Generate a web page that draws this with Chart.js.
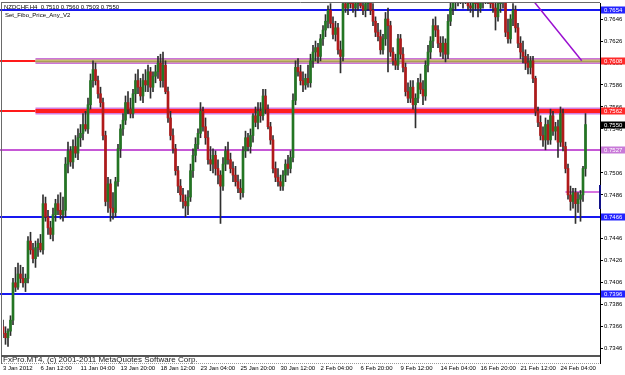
<!DOCTYPE html>
<html><head><meta charset="utf-8">
<script src="https://cdn.jsdelivr.net/npm/chart.js@4.4.1/dist/chart.umd.min.js"></script>
<style>html,body{margin:0;padding:0;background:#fff}#wrap{width:625px;height:375px}</style>
</head><body><div id="wrap"><canvas id="c" width="625" height="375"></canvas></div>
<script>
// ---- DATA (prices in pips, 1 pip = 0.0001) ----
const openPips = [7366,7360,7356,7362,7372,7406,7402,7414,7410,7406,7410,7444,7436,7428,7438,7442,7436,7478,7466,7456,
7450,7468,7478,7472,7468,7472,7514,7526,7516,7530,7524,7538,7542,7550,7546,7568,7590,7600,7590,7578,
7570,7540,7480,7496,7474,7470,7498,7528,7546,7554,7570,7564,7560,7578,7590,7584,7576,7590,7586,7598,
7584,7594,7598,7606,7590,7604,7580,7556,7540,7528,7508,7494,7486,7480,7476,7484,7508,7522,7532,7542,
7562,7548,7538,7518,7514,7522,7510,7504,7494,7514,7526,7518,7510,7504,7498,7492,7488,7526,7538,7530,
7540,7558,7552,7562,7558,7576,7564,7548,7536,7510,7502,7498,7494,7504,7514,7510,7520,7572,7602,7598,
7590,7586,7592,7588,7608,7616,7620,7612,7628,7636,7644,7654,7642,7632,7638,7618,7612,7660,7656,7664,
7660,7656,7660,7666,7658,7654,7660,7664,7654,7644,7634,7630,7618,7628,7646,7640,7616,7608,7604,7628,
7614,7602,7580,7574,7584,7568,7574,7588,7582,7576,7604,7616,7626,7640,7636,7624,7616,7624,7614,7644,
7656,7662,7666,7670,7664,7670,7666,7658,7656,7662,7660,7656,7664,7668,7672,7664,7660,7656,7648,7660,
7664,7662,7634,7628,7646,7654,7638,7624,7616,7612,7606,7602,7608,7592,7562,7552,7540,7536,7550,7536,
7558,7544,7548,7534,7560,7530,7510,7486,7480,7488,7478,7482,7486,7510];
const highPips = [7372,7366,7364,7376,7410,7420,7424,7422,7420,7414,7448,7452,7442,7444,7446,7450,7486,7484,7472,7462,
7474,7482,7486,7488,7484,7520,7534,7530,7536,7540,7546,7550,7560,7562,7574,7596,7608,7606,7594,7584,
7574,7544,7502,7500,7488,7502,7532,7550,7560,7576,7580,7574,7582,7596,7600,7592,7596,7600,7604,7602,
7598,7604,7612,7614,7616,7608,7584,7562,7546,7532,7512,7500,7492,7486,7490,7514,7528,7538,7546,7570,
7566,7556,7544,7530,7528,7526,7518,7508,7520,7530,7534,7524,7516,7512,7504,7500,7530,7544,7542,7546,
7560,7566,7570,7570,7582,7582,7568,7552,7540,7516,7510,7504,7508,7518,7522,7526,7578,7608,7610,7604,
7598,7596,7604,7614,7622,7626,7624,7632,7640,7650,7658,7660,7648,7644,7642,7626,7668,7672,7668,7676,
7670,7664,7672,7674,7666,7664,7670,7668,7660,7648,7642,7636,7632,7652,7656,7644,7620,7614,7632,7632,
7620,7606,7588,7590,7590,7578,7592,7596,7590,7608,7622,7630,7646,7648,7640,7630,7630,7628,7650,7662,
7670,7676,7680,7682,7676,7680,7674,7668,7666,7672,7668,7670,7676,7680,7682,7674,7668,7664,7664,7670,
7672,7668,7646,7650,7660,7658,7642,7630,7626,7618,7614,7612,7612,7594,7566,7558,7548,7556,7554,7564,
7562,7552,7554,7566,7564,7534,7514,7494,7492,7492,7488,7490,7512,7560];
const lowPips = [7356,7350,7348,7358,7368,7398,7400,7406,7402,7398,7406,7432,7424,7420,7430,7434,7432,7462,7450,7446,
7444,7462,7468,7464,7462,7466,7506,7512,7510,7520,7518,7530,7536,7544,7542,7564,7584,7586,7574,7566,
7536,7476,7470,7462,7464,7466,7494,7520,7540,7550,7560,7556,7556,7570,7578,7572,7570,7580,7580,7574,
7580,7588,7592,7584,7584,7578,7552,7536,7524,7504,7488,7480,7474,7466,7468,7480,7502,7516,7528,7538,
7544,7532,7514,7508,7506,7504,7496,7460,7490,7508,7514,7506,7498,7494,7488,7482,7484,7520,7526,7524,
7534,7548,7546,7552,7554,7560,7546,7532,7506,7498,7494,7490,7490,7498,7504,7506,7516,7568,7594,7586,
7580,7582,7584,7584,7602,7608,7606,7608,7622,7630,7638,7638,7628,7626,7614,7597,7608,7652,7650,7656,
7652,7648,7654,7656,7650,7648,7654,7650,7640,7630,7626,7614,7614,7622,7598,7612,7604,7600,7600,7610,
7598,7576,7570,7570,7564,7547,7570,7578,7568,7572,7598,7610,7620,7630,7620,7612,7610,7607,7610,7640,
7650,7654,7658,7660,7656,7660,7654,7652,7648,7654,7648,7652,7656,7660,7660,7656,7652,7636,7644,7652,
7656,7630,7624,7624,7640,7634,7620,7610,7606,7600,7596,7596,7588,7558,7548,7536,7530,7527,7532,7532,
7540,7536,7520,7530,7526,7506,7482,7472,7474,7460,7470,7462,7480,7503];
const closePips = [7360,7356,7362,7372,7406,7402,7414,7410,7406,7410,7444,7436,7428,7438,7442,7436,7478,7466,7456,7450,
7468,7478,7472,7468,7472,7514,7526,7516,7530,7524,7538,7542,7550,7546,7568,7590,7600,7590,7578,7570,
7540,7480,7496,7474,7470,7498,7528,7546,7554,7570,7564,7560,7578,7590,7584,7576,7590,7586,7598,7584,
7594,7598,7606,7590,7604,7580,7556,7540,7528,7508,7494,7486,7480,7476,7484,7508,7522,7532,7542,7562,
7548,7538,7518,7514,7522,7510,7504,7494,7514,7526,7518,7510,7504,7498,7492,7488,7526,7538,7530,7540,
7558,7552,7562,7558,7576,7564,7548,7536,7510,7502,7498,7494,7504,7514,7510,7520,7572,7602,7598,7590,
7586,7592,7588,7608,7616,7620,7612,7628,7636,7644,7654,7642,7632,7638,7618,7612,7660,7656,7664,7660,
7656,7660,7666,7658,7654,7660,7664,7654,7644,7634,7630,7618,7628,7646,7640,7616,7608,7604,7628,7614,
7602,7580,7574,7584,7568,7574,7588,7582,7576,7604,7616,7626,7640,7636,7624,7616,7624,7614,7644,7656,
7662,7666,7670,7664,7670,7666,7658,7656,7662,7660,7656,7664,7668,7672,7664,7660,7656,7648,7660,7664,
7662,7634,7628,7646,7654,7638,7624,7616,7612,7606,7602,7608,7592,7562,7552,7540,7536,7550,7536,7558,
7544,7548,7534,7560,7530,7510,7486,7480,7488,7478,7482,7486,7510,7550];

// time axis: H4 bar numbers (bar 1 = 3 Jan 2012 20:00), a label every 16 bars
const tickBars = [1,16,32,48,64,80,96,112,128,144,160,176,192,208,224];
const tickLabels = ['3 Jan 2012','6 Jan 12:00','11 Jan 04:00','13 Jan 20:00','18 Jan 12:00','23 Jan 04:00','25 Jan 20:00',
  '30 Jan 12:00','2 Feb 04:00','6 Feb 20:00','9 Feb 12:00','14 Feb 04:00','16 Feb 20:00','21 Feb 12:00','24 Feb 04:00'];
const priceTicks = [0.7346,0.7366,0.7386,0.7406,0.7426,0.7446,0.7466,0.7486,0.7506,0.7526,0.7546,0.7566,0.7586,0.7606,0.7626,0.7646];

// horizontal objects
const blueLevels = [0.7654, 0.7466, 0.7396];
const fiboBandLevels = [0.7608, 0.7562];
const violetLevel = 0.7527;
const currentPrice = 0.7550;
const shortLevel = 0.7489;
const bandStartBar = 14;
const shortLineStartBar = 226;
const trendLine = [{bar: 213, price: 0.7663}, {bar: 232.5, price: 0.7608}];
const askMarker = [0.7495, 0.7473];
const titleText = 'NZDCHF,H4  0.7510 0.7560 0.7503 0.7550';
const indicatorName = 'Set_Fibo_Price_Any_V2';
const copyrightText = 'FxPro.MT4, (c) 2001-2011 MetaQuotes Software Corp.';

// ---- BUILD ----
const P = v => v / 10000;
const bars = openPips.map((_, k) => k + 1);
const wickData = bars.map((b, k) => ({x: b, y: [P(lowPips[k]), P(highPips[k])]}));
const bodyData = bars.map((b, k) => {
  let o = P(openPips[k]), c = P(closePips[k]);
  if (Math.abs(o - c) < 0.00008) c = o + (closePips[k] >= openPips[k] ? 0.00008 : -0.00008);
  return {x: b, y: [o, c]};
});
const up = bars.map((b, k) => closePips[k] >= openPips[k]);
const FONT = 'Liberation Sans, Arial, sans-serif';

const overlay = {
  id: 'overlay',
  beforeDatasetsDraw(chart) {
    const {ctx, chartArea: a, scales: {x, y}} = chart;
    ctx.save();
    ctx.beginPath(); ctx.rect(0, a.top, a.right, a.bottom - a.top); ctx.clip();
    const py = v => Math.round(y.getPixelForValue(v));
    const hl = (v, color, w, x0, x1) => {
      const yy = py(v) + (w % 2 ? 0.5 : 0);
      ctx.strokeStyle = color; ctx.lineWidth = w;
      ctx.beginPath(); ctx.moveTo(x0, yy); ctx.lineTo(x1, yy); ctx.stroke();
    };
    const bx = x.getPixelForValue(bandStartBar);
    fiboBandLevels.forEach((v, k) => {
      hl(v, '#ff1a1a', 2, 0, bx);
      const c = py(v);
      if (k === 0) {
        ctx.fillStyle = '#cc74da'; ctx.fillRect(bx, c - 3, a.right - bx, 6);
        ctx.fillStyle = '#c8bd72'; ctx.fillRect(bx, c - 1.5, a.right - bx, 3);
        ctx.strokeStyle = '#8a7f3a'; ctx.lineWidth = 1; ctx.setLineDash([1, 1]);
        ctx.beginPath(); ctx.moveTo(bx, c + 0.5); ctx.lineTo(a.right, c + 0.5); ctx.stroke();
        ctx.setLineDash([]);
      } else {
        ctx.fillStyle = '#d27de0'; ctx.fillRect(bx, c - 3.5, a.right - bx, 7);
        ctx.fillStyle = '#ff1e1e'; ctx.fillRect(bx, c - 2, a.right - bx, 4);
      }
    });
    hl(violetLevel, '#c658d6', 2, 0, a.right);
    blueLevels.forEach(v => hl(v, '#1818f0', 2, 0, a.right));
    hl(shortLevel, '#d874e0', 2, x.getPixelForValue(shortLineStartBar), a.right);
    ctx.strokeStyle = '#9a10d0'; ctx.lineWidth = 1.5;
    ctx.beginPath();
    ctx.moveTo(x.getPixelForValue(trendLine[0].bar), y.getPixelForValue(trendLine[0].price));
    ctx.lineTo(x.getPixelForValue(trendLine[1].bar), y.getPixelForValue(trendLine[1].price));
    ctx.stroke();
    ctx.restore();
  },
  afterDraw(chart) {
    const {ctx, chartArea: a, scales: {y}} = chart;
    ctx.save();
    const py = v => Math.round(y.getPixelForValue(v));
    ctx.strokeStyle = '#6a6a6a'; ctx.lineWidth = 1;
    ctx.beginPath(); ctx.moveTo(1.5, 2); ctx.lineTo(1.5, 364); ctx.stroke();
    ctx.beginPath(); ctx.moveTo(1, 2.5); ctx.lineTo(600, 2.5); ctx.stroke();
    ctx.fillStyle = '#fff'; ctx.fillRect(2, a.bottom, a.right - 2, 8);
    ctx.strokeStyle = '#555'; ctx.lineWidth = 2;
    ctx.beginPath(); ctx.moveTo(1, a.bottom + 1); ctx.lineTo(601, a.bottom + 1); ctx.stroke();
    ctx.strokeStyle = '#9a9a9a'; ctx.lineWidth = 1; ctx.setLineDash([1, 1]);
    ctx.beginPath(); ctx.moveTo(2, a.bottom + 8.5); ctx.lineTo(600, a.bottom + 8.5); ctx.stroke();
    ctx.setLineDash([]);
    ctx.strokeStyle = '#000'; ctx.beginPath(); ctx.moveTo(600.5, a.bottom); ctx.lineTo(600.5, a.bottom + 9); ctx.stroke();
    ctx.fillStyle = '#222'; ctx.font = '8px ' + FONT; ctx.textBaseline = 'middle'; ctx.textAlign = 'left';
    ctx.fillText(copyrightText, 3, a.bottom + 5);
    ctx.fillStyle = '#12128a';
    const m0 = py(askMarker[0]), m1 = py(askMarker[1]);
    ctx.fillRect(599, m0, 2, m1 - m0);
    ctx.fillStyle = '#000'; ctx.font = '6px ' + FONT; ctx.textBaseline = 'top';
    ctx.fillText(titleText, 4, 4);
    ctx.fillText(indicatorName, 5, 12);
    const box = (v, bg) => {
      const c = py(v);
      ctx.fillStyle = bg; ctx.fillRect(601, c - 3.5, 24, 7);
      ctx.fillStyle = '#fff'; ctx.font = '6px ' + FONT; ctx.textBaseline = 'middle';
      ctx.fillText(v.toFixed(4), 604, c + 0.5);
    };
    box(blueLevels[0], '#2424ff');
    fiboBandLevels.forEach(v => box(v, '#ff2a2a'));
    box(currentPrice, '#000000');
    box(violetLevel, '#c879d8');
    box(blueLevels[1], '#2424ff');
    box(blueLevels[2], '#2424ff');
    ctx.restore();
  }
};

new Chart(document.getElementById('c'), {
  type: 'bar',
  data: {
    datasets: [
      {data: wickData, backgroundColor: '#2e2e2e', barThickness: 1, grouped: false, order: 2},
      {data: bodyData, backgroundColor: up.map(u => u ? '#237523' : '#b01a1a'),
       borderWidth: 0, barThickness: 2, grouped: false, order: 1}
    ]
  },
  options: {
    responsive: false, animation: false, devicePixelRatio: 1,
    layout: {padding: {left: 3, top: 3, right: 0, bottom: 0}},
    plugins: {legend: {display: false}, tooltip: {enabled: false}},
    scales: {
      x: {
        type: 'linear', min: 1, max: 239.8, offset: false,
        grid: {display: false, drawTicks: false}, border: {display: false},
        afterBuildTicks: s => { s.ticks = tickBars.map(v => ({value: v})); },
        afterFit: s => { s.height = 20; s.paddingLeft = 0; s.paddingRight = 0; },
        ticks: {autoSkip: false, maxRotation: 0, minRotation: 0, align: 'start', padding: 10,
          color: '#000', font: {family: FONT, size: 6},
          callback: (v, i) => tickLabels[i]}
      },
      y: {
        position: 'right', min: 0.73403, max: 0.76606,
        afterBuildTicks: s => { s.ticks = priceTicks.map(v => ({value: v})); },
        afterFit: s => { s.width = 25; s.paddingTop = 0; s.paddingBottom = 0; },
        grid: {drawOnChartArea: false, tickLength: 3, color: '#000'},
        border: {display: true, color: '#000', width: 1},
        ticks: {padding: 1, color: '#000', font: {family: FONT, size: 6},
          callback: v => v.toFixed(4)}
      }
    }
  },
  plugins: [overlay]
});
</script></body></html>
